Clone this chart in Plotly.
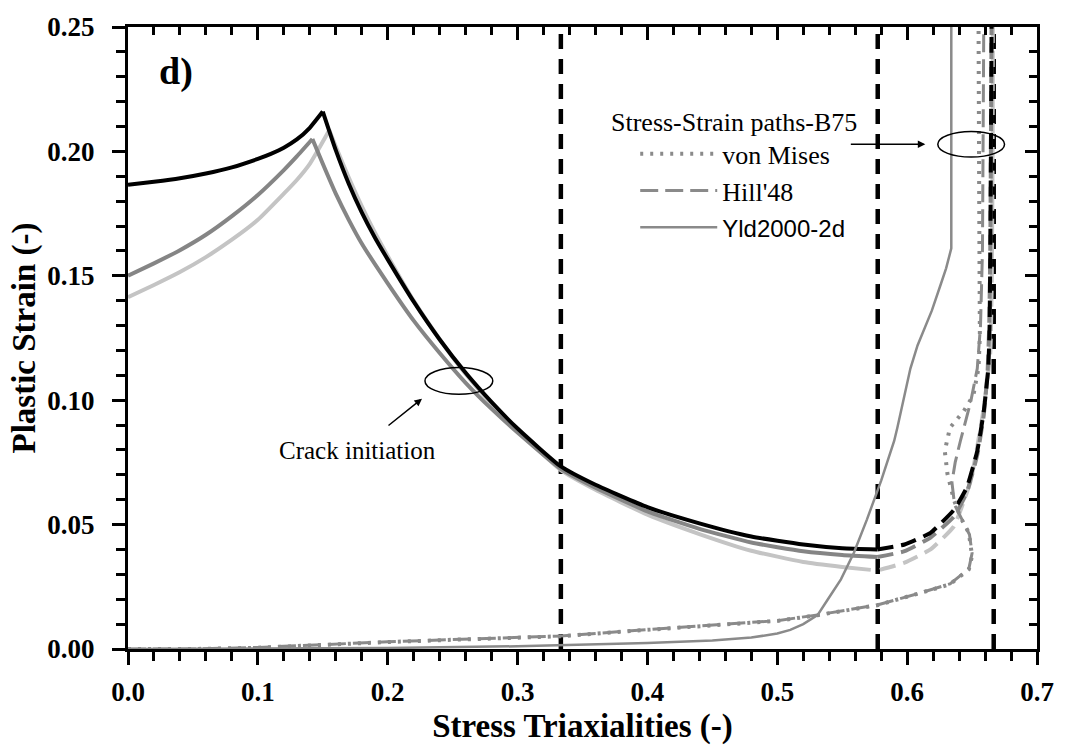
import numpy as np
import plotly.graph_objects as go

# ---------------- data ----------------
# Fracture loci (solid up to 1/sqrt(3), dashed beyond)
locus_black_x = [0.0, 0.02, 0.04, 0.06, 0.08, 0.10, 0.11, 0.12, 0.13, 0.14, 0.15, 0.16, 0.17, 0.18, 0.19, 0.20,
                 0.22, 0.24, 0.26, 0.28, 0.30, 0.333, 0.36, 0.40, 0.44, 0.48, 0.52, 0.55, 0.577]
locus_black_y = [0.1866, 0.1878, 0.1892, 0.1911, 0.1936, 0.1970, 0.1990, 0.2015, 0.2048, 0.2095, 0.2160, 0.2005,
                 0.1870, 0.1755, 0.1655, 0.1566, 0.1396, 0.1244, 0.1110, 0.0992, 0.0886, 0.0735, 0.0660, 0.0570,
                 0.0505, 0.0452, 0.0420, 0.0405, 0.0400]
locus_black_ext_x = [0.577, 0.598, 0.618, 0.636, 0.646, 0.654, 0.659, 0.6625, 0.6635, 0.664, 0.6645, 0.665]
locus_black_ext_y = [0.0400, 0.0420, 0.0467, 0.0559, 0.0650, 0.0796, 0.0955, 0.1130, 0.1300, 0.1600, 0.2000, 0.2500]

locus_dark_x = [0.0, 0.02, 0.04, 0.06, 0.08, 0.10, 0.12, 0.13, 0.142, 0.15, 0.16, 0.17, 0.18, 0.20, 0.22, 0.24,
                0.26, 0.28, 0.30, 0.333, 0.36, 0.40, 0.44, 0.48, 0.52, 0.55, 0.577]
locus_dark_y = [0.1500, 0.1550, 0.1603, 0.1665, 0.1740, 0.1825, 0.1925, 0.1980, 0.2050, 0.1950, 0.1830, 0.1725,
                0.1630, 0.1470, 0.1320, 0.1190, 0.1070, 0.0965, 0.0870, 0.0725, 0.0648, 0.0553, 0.0483, 0.0428,
                0.0393, 0.0378, 0.0370]
locus_dark_ext_x = [0.577, 0.598, 0.618, 0.636, 0.646, 0.654, 0.659, 0.662, 0.6632, 0.664, 0.6645, 0.665]
locus_dark_ext_y = [0.0370, 0.0393, 0.0448, 0.0532, 0.0630, 0.0780, 0.0940, 0.1120, 0.1300, 0.1600, 0.2000, 0.2500]

locus_light_x = [0.0, 0.02, 0.04, 0.06, 0.08, 0.10, 0.12, 0.13, 0.14, 0.155, 0.16, 0.17, 0.18, 0.19, 0.20, 0.22,
                 0.24, 0.26, 0.28, 0.30, 0.333, 0.36, 0.40, 0.44, 0.48, 0.52, 0.55, 0.572]
locus_light_y = [0.1414, 0.1463, 0.1515, 0.1575, 0.1645, 0.1725, 0.1830, 0.1885, 0.1950, 0.2085, 0.2020, 0.1895,
                 0.1780, 0.1675, 0.1580, 0.1400, 0.1245, 0.1105, 0.0985, 0.0880, 0.0720, 0.0640, 0.0540, 0.0462,
                 0.0395, 0.0350, 0.0330, 0.0318]
locus_light_ext_x = [0.579, 0.598, 0.618, 0.636, 0.649, 0.659, 0.664, 0.6652, 0.6658, 0.666]
locus_light_ext_y = [0.0318, 0.0347, 0.0400, 0.0493, 0.0678, 0.0968, 0.1190, 0.1500, 0.2000, 0.2500]

# Stress-strain paths (B75)
vm_x = [0.0, 0.05, 0.10, 0.15, 0.20, 0.25, 0.30, 0.333, 0.40, 0.45, 0.50, 0.531, 0.577, 0.608, 0.633, 0.6475,
        0.650, 0.6475, 0.641, 0.636, 0.631, 0.629, 0.633, 0.6435, 0.651, 0.655, 0.656, 0.6555, 0.655]
vm_y = [0.0, 0.0, 0.0005, 0.0018, 0.0028, 0.0037, 0.0045, 0.0051, 0.0077, 0.0094, 0.0113, 0.0136, 0.0176, 0.0222,
        0.0260, 0.0320, 0.0374, 0.0467, 0.0530, 0.0600, 0.0705, 0.0796, 0.0890, 0.0955, 0.1020, 0.1130, 0.1260,
        0.1800, 0.2500]

hill_x = [0.0, 0.05, 0.10, 0.15, 0.20, 0.25, 0.30, 0.333, 0.40, 0.45, 0.50, 0.531, 0.577, 0.608, 0.633, 0.6475,
          0.650, 0.648, 0.642, 0.6365, 0.6345, 0.637, 0.641, 0.645, 0.649, 0.654, 0.6565, 0.658, 0.6585, 0.659]
hill_y = [0.0, 0.0, 0.0006, 0.0019, 0.0029, 0.0038, 0.0046, 0.0052, 0.0078, 0.0095, 0.0114, 0.0137, 0.0177, 0.0222,
          0.0262, 0.0322, 0.0385, 0.0460, 0.0520, 0.0580, 0.0670, 0.0750, 0.0836, 0.0920, 0.0995, 0.1127, 0.1300,
          0.1600, 0.2000, 0.2500]

yld_x = [0.0, 0.10, 0.20, 0.30, 0.40, 0.45, 0.48, 0.50, 0.51, 0.52, 0.531, 0.539, 0.549, 0.559, 0.569, 0.580,
         0.590, 0.5925, 0.6025, 0.608, 0.614, 0.619, 0.6257, 0.630, 0.634, 0.634, 0.634]
yld_y = [0.0, 0.0001, 0.0004, 0.0011, 0.0024, 0.0034, 0.0046, 0.0062, 0.0077, 0.0100, 0.0136, 0.0200, 0.0280,
         0.0387, 0.0520, 0.0677, 0.0836, 0.0890, 0.1127, 0.1220, 0.1300, 0.1360, 0.1463, 0.1530, 0.1610, 0.2000,
         0.2500]

# Reference triaxialities (uniaxial tension, plane strain, equi-biaxial)
ref_triax = [1 / 3, 1 / np.sqrt(3), 2 / 3]

x_range = [0.0, 0.7]
y_range = [0.0, 0.25]

SERIF = "Liberation Serif"
SANS = "Liberation Sans"
C_BLACK = "#000000"
C_DARK = "#858585"
C_LIGHT = "#c4c4c4"
C_PATH = "#8a8a8a"

fig = go.Figure()

# reference lines
for v in ref_triax:
    fig.add_trace(go.Scatter(x=[v, v], y=y_range, mode="lines", showlegend=False, hoverinfo="skip",
                             line=dict(color="black", width=4.5, dash="15px,10px")))

# fracture loci: smooth branches on each side of the peak, sharp corner at the peak
for xs, ys, xe, ye, col in [
    (locus_light_x, locus_light_y, locus_light_ext_x, locus_light_ext_y, C_LIGHT),
    (locus_dark_x, locus_dark_y, locus_dark_ext_x, locus_dark_ext_y, C_DARK),
    (locus_black_x, locus_black_y, locus_black_ext_x, locus_black_ext_y, C_BLACK),
]:
    k = int(np.argmax(ys))
    for bx, by in [(xs[:k + 1], ys[:k + 1]), (xs[k:], ys[k:])]:
        fig.add_trace(go.Scatter(x=bx, y=by, mode="lines", showlegend=False,
                                 line=dict(color=col, width=4, shape="spline", smoothing=0.5)))
    fig.add_trace(go.Scatter(x=xe, y=ye, mode="lines", showlegend=False,
                             line=dict(color=col, width=4, dash="16px,8px", shape="spline", smoothing=0.4)))

# stress-strain paths
fig.add_trace(go.Scatter(x=vm_x, y=vm_y, mode="lines", name="von Mises",
                         line=dict(color=C_PATH, width=4, dash="3px,7px")))
fig.add_trace(go.Scatter(x=hill_x, y=hill_y, mode="lines", name="Hill'48",
                         line=dict(color=C_PATH, width=3, dash="18px,7px")))
fig.add_trace(go.Scatter(x=yld_x, y=yld_y, mode="lines",
                         name="<span style='font-family:Liberation Sans;font-size:24px'>Yld2000-2d</span>",
                         line=dict(color=C_PATH, width=2.5)))

tickfont = dict(family=SERIF, size=27, color="black", weight="bold")
axis_common = dict(showgrid=False, zeroline=False, showline=True, linecolor="black", linewidth=3,
                   ticks="outside", tickcolor="black", tickwidth=3, ticklen=13)

fig.update_layout(
    width=1066, height=751,
    margin=dict(l=128, r=26, t=20, b=100, pad=0),
    paper_bgcolor="white", plot_bgcolor="white",
    font=dict(family=SERIF, color="black"),
    xaxis=dict(range=x_range, dtick=0.1, tick0=0, tickformat=".1f", tickfont=tickfont,
               minor=dict(ticks="outside", dtick=0.02, ticklen=9, tickwidth=2.5, tickcolor="black"),
               title=dict(text="Stress Triaxialities (-)", standoff=8,
                          font=dict(family=SERIF, size=33, weight="bold", color="black")),
               ticklabelstandoff=4,
               **axis_common),
    yaxis=dict(range=y_range, dtick=0.05, tick0=0, tickformat=".2f", tickfont=tickfont,
               minor=dict(ticks="outside", dtick=0.01, ticklen=9, tickwidth=2.5, tickcolor="black"),
               title=dict(text="Plastic Strain (-)", standoff=2,
                          font=dict(family=SERIF, size=33, weight="bold", color="black")),
               ticklabelstandoff=12,
               **axis_common),
    xaxis2=dict(range=x_range, dtick=0.1, tick0=0, overlaying="x", side="top", anchor="y",
                showticklabels=False, showgrid=False, zeroline=False, showline=True, linecolor="black",
                linewidth=3, ticks="inside", tickcolor="black", tickwidth=3, ticklen=13,
                minor=dict(ticks="inside", dtick=0.02, ticklen=8, tickwidth=2.5, tickcolor="black")),
    yaxis2=dict(range=y_range, dtick=0.05, tick0=0, overlaying="y", side="right", anchor="x",
                showticklabels=False, showgrid=False, zeroline=False, showline=True, linecolor="black",
                linewidth=3, ticks="inside", tickcolor="black", tickwidth=3, ticklen=12,
                minor=dict(ticks="inside", dtick=0.01, ticklen=8, tickwidth=2.5, tickcolor="black")),
    legend=dict(x=0.558, y=0.834, xanchor="left", yanchor="top", bgcolor="rgba(0,0,0,0)",
                font=dict(family=SERIF, size=26, color="black"),
                itemwidth=77, tracegroupgap=0),
    showlegend=True,
)

# invisible trace to activate the mirrored axes
fig.add_trace(go.Scatter(x=[None], y=[None], xaxis="x2", yaxis="y2", showlegend=False, hoverinfo="skip"))

# ellipses
fig.add_shape(type="circle", xref="x", yref="y", x0=0.2287, x1=0.2809, y0=0.1024, y1=0.1131,
              line=dict(color="black", width=1.5))
fig.add_shape(type="circle", xref="x", yref="y", x0=0.6236, x1=0.6750, y0=0.1977, y1=0.2080,
              line=dict(color="black", width=1.5))

# annotations
fig.add_annotation(x=0.4666, y=0.2116, xref="x", yref="y", text="Stress-Strain paths-B75", showarrow=False,
                   font=dict(family=SERIF, size=26, color="black"))
fig.add_annotation(x=0.2264, y=0.1006, xref="x", yref="y", ax=-35, ay=28, text="", showarrow=True,
                   arrowhead=2, arrowsize=1, arrowwidth=1.5, arrowcolor="black")
fig.add_annotation(x=0.1765, y=0.0796, xref="x", yref="y", text="Crack initiation", showarrow=False,
                   font=dict(family=SERIF, size=25, color="black"))
fig.add_annotation(x=0.614, y=0.2029, xref="x", yref="y", ax=-76, ay=0, text="", showarrow=True,
                   arrowhead=2, arrowsize=1, arrowwidth=1.5, arrowcolor="black")
fig.add_annotation(x=0.0223, y=0.232, xref="x", yref="y", xanchor="left", text="d)", showarrow=False,
                   font=dict(family=SERIF, size=38, color="black", weight="bold"))

fig.write_html("out.html")
